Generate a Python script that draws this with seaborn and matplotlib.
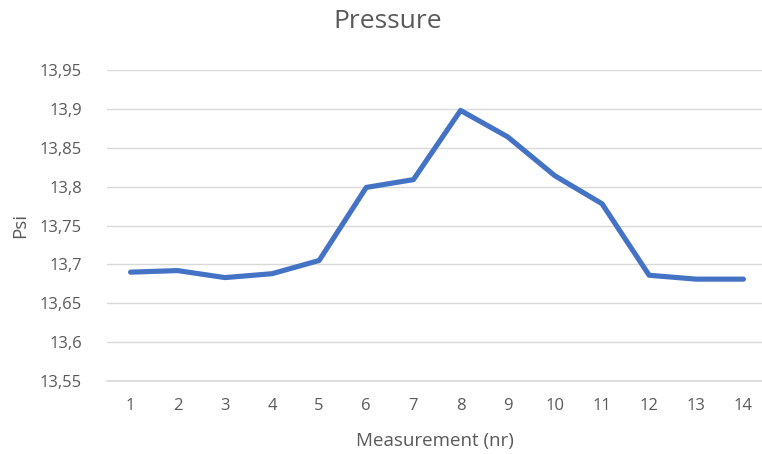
import matplotlib
matplotlib.use("Agg")
import matplotlib.pyplot as plt
import seaborn as sns
import pandas as pd
from matplotlib.ticker import FuncFormatter

measurements = list(range(1, 15))
psi = [13.690, 13.692, 13.683, 13.688, 13.705, 13.799, 13.809, 13.898,
       13.864, 13.814, 13.778, 13.686, 13.681, 13.681]
y_ticks = [13.55, 13.60, 13.65, 13.70, 13.75, 13.80, 13.85, 13.90, 13.95]

sns.set_theme(style="white")
plt.rcParams['font.family'] = ['Open Sans', 'DejaVu Sans']

df = pd.DataFrame({"Measurement": measurements, "Psi": psi})

fig = plt.figure(figsize=(7.62, 4.54), dpi=100)
ax = fig.add_axes([107 / 762, (454 - 381) / 454, (762 - 107) / 762, (381 - 70) / 454])

sns.lineplot(data=df, x="Measurement", y="Psi", ax=ax, color="#4472C4",
             linewidth=3.7, solid_capstyle="round", solid_joinstyle="round")

ax.set_ylim(13.55, 13.95)
ax.set_xlim(0.5, 14.5 - (767 - 762) / 47.15)
ax.set_yticks(y_ticks)
ax.set_xticks(measurements)
ax.yaxis.set_major_formatter(FuncFormatter(lambda v, p: f"{v:.2f}".rstrip("0").replace(".", ",")))
ax.grid(axis="y", color="#D9D9D9", linewidth=1)
ax.set_axisbelow(True)
for s in ["top", "right", "left"]:
    ax.spines[s].set_visible(False)
ax.spines["bottom"].set_color("#D9D9D9")
ax.tick_params(axis="both", length=0, colors="#595959", labelsize=12)
ax.tick_params(axis="y", pad=18)
ax.tick_params(axis="x", pad=12)

ax.set_xlabel("Measurement (nr)", color="#595959", fontsize=13.5, labelpad=13)
ax.set_ylabel("Psi", color="#595959", fontsize=13.5, labelpad=8)
fig.text(388 / 762, 1 - 22 / 454, "Pressure", ha="center", va="center",
         color="#595959", fontsize=19)

fig.savefig("out.png", dpi=100, facecolor="white")
